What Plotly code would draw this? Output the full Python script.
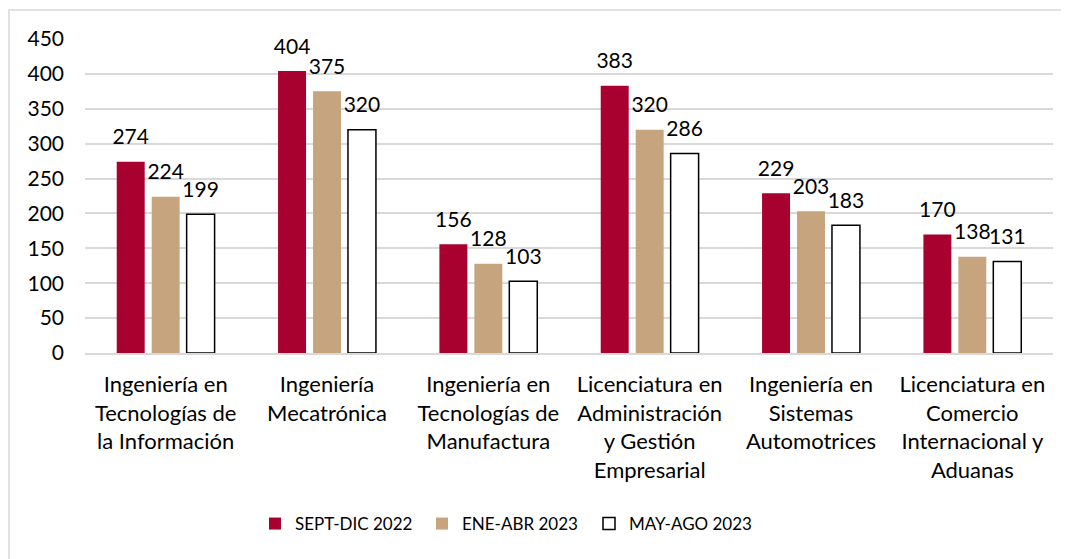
import plotly.graph_objects as go

categories = [
    "Ingeniería en<br>Tecnologías de<br>la Información",
    "Ingeniería<br>Mecatrónica",
    "Ingeniería en<br>Tecnologías de<br>Manufactura",
    "Licenciatura en<br>Administración<br>y Gestión<br>Empresarial",
    "Ingeniería en<br>Sistemas<br>Automotrices",
    "Licenciatura en<br>Comercio<br>Internacional y<br>Aduanas",
]
series_names = ["SEPT-DIC 2022", "ENE-ABR 2023", "MAY-AGO 2023"]
sept_dic_2022 = [274, 404, 156, 383, 229, 170]
ene_abr_2023 = [224, 375, 128, 320, 203, 138]
may_ago_2023 = [199, 320, 103, 286, 183, 131]
y_ticks = [0, 50, 100, 150, 200, 250, 300, 350, 400, 450]

FONT = "Lato, Calibri, Carlito, sans-serif"
fills = ["#A8002F", "#C6A57E", "#FFFFFF"]
lines = ["#A8002F", "#C6A57E", "#000000"]
values = [sept_dic_2022, ene_abr_2023, may_ago_2023]

W, H = 1061, 551
L, T, PW, PH = 77, 31, 968, 314

fig = go.Figure()
for i, (name, vals, fc, lc) in enumerate(zip(series_names, values, fills, lines)):
    fig.add_trace(go.Bar(
        x=categories, y=vals, name=name,
        marker=dict(color=fc, line=dict(color=lc, width=1.5 if fc == "#FFFFFF" else 0)),
        hoverinfo="x+y",
    ))
for i, vals in enumerate(values):
    fig.add_trace(go.Scatter(
        x=categories, y=vals, mode="markers+text",
        text=[str(v) for v in vals], textposition="top center",
        textfont=dict(family=FONT, size=21, color="#000000"),
        marker=dict(size=18, color="rgba(0,0,0,0)"),
        showlegend=False, cliponaxis=False, hoverinfo="skip",
    ))

fig.update_layout(
    width=W, height=H,
    margin=dict(l=L, r=W - L - PW, t=T, b=H - T - PH, autoexpand=False),
    paper_bgcolor="white", plot_bgcolor="white",
    barmode="group", bargap=0.35, bargroupgap=0.2,
    scattermode="group", scattergap=0.35,
    font=dict(family=FONT, size=21, color="#000000"),
    showlegend=True,
    legend=dict(orientation="h", x=(247 - L) / PW, xanchor="left", y=-(498 - T - PH) / PH,
                yanchor="top", font=dict(family=FONT, size=17), traceorder="normal",
                entrywidth=122, entrywidthmode="pixels"),
    xaxis=dict(showline=True, linecolor="#D9D9D9", linewidth=1.5, ticks="",
               tickfont=dict(family=FONT, size=22), ticklabelstandoff=11),
    yaxis=dict(range=[0, 450], tickvals=y_ticks, showgrid=True, gridcolor="#D9D9D9",
               gridwidth=1.5, zeroline=False, ticks="", ticklen=0,
               tickfont=dict(family=FONT, size=21), ticklabelstandoff=20),
    shapes=[dict(type="rect", xref="paper", yref="paper",
                 x0=(1 - L) / PW, x1=(W + 5 - L) / PW,
                 y0=-(H + 5 - T - PH) / PH, y1=(T + PH - 2) / PH,
                 line=dict(color="#D9D9D9", width=1.5), layer="below")],
)

fig.write_html("out.html")
